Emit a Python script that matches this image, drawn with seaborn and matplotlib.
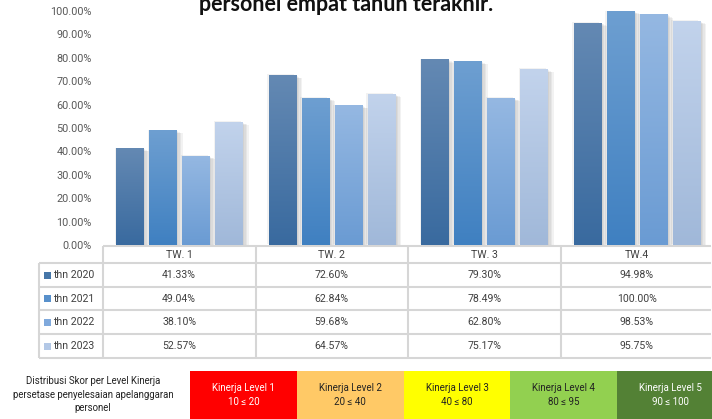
import numpy as np
import pandas as pd
import seaborn as sns
import matplotlib
matplotlib.use("Agg")
import matplotlib.pyplot as plt
import matplotlib.patheffects as pe
from matplotlib.colors import LinearSegmentedColormap
from matplotlib.ticker import PercentFormatter, MultipleLocator
from matplotlib.transforms import blended_transform_factory

# ---- data ----
quarters = ["TW. 1", "TW. 2", "TW. 3", "TW.4"]
years = ["thn 2020", "thn 2021", "thn 2022", "thn 2023"]
thn_2020 = [0.4133, 0.7260, 0.7930, 0.9498]
thn_2021 = [0.4904, 0.6284, 0.7849, 1.0000]
thn_2022 = [0.3810, 0.5968, 0.6280, 0.9853]
thn_2023 = [0.5257, 0.6457, 0.7517, 0.9575]
series = [thn_2020, thn_2021, thn_2022, thn_2023]

title = "personel empat tahun terakhir."
legend_caption = ["Distribusi Skor per Level Kinerja",
                  "persetase penyelesaian apelanggaran",
                  "personel"]
level_names = ["Kinerja Level 1", "Kinerja Level 2", "Kinerja Level 3",
               "Kinerja Level 4", "Kinerja Level 5"]
level_ranges = ["10 \u2264 20", "20 \u2264 40", "40 \u2264 80", "80 \u2264 95", "90 \u2264 100"]

# ---- styling ----
base_colors = ["#4676a8", "#5890cb", "#7fa9dc", "#b3c8e6"]
grad_top = ["#6489b3", "#6e9fd1", "#95b8e2", "#c2d3ec"]
grad_bottom = ["#396a9f", "#3f80c1", "#6a9bd3", "#a0b8d9"]
level_colors = ["#ff0000", "#ffc966", "#ffff00", "#92d050", "#538135"]
level_text = ["white", "#222222", "#222222", "#222222", "white"]
grid_col = "#d6d6d6"
txt_col = "#404040"

df = pd.DataFrame({
    "quarter": quarters * len(years),
    "year": np.repeat(years, len(quarters)).tolist(),
    "value": np.concatenate(series),
})

sns.set_theme(style="white")
plt.rcParams["font.family"] = ["Roboto", "DejaVu Sans"]

W, H = 712, 419
fig = plt.figure(figsize=(W / 100, H / 100), dpi=100)

# pixel-based overlay for table and legend strip
ov = fig.add_axes([0, 0, 1, 1], zorder=0)
ov.set_xlim(0, W)
ov.set_ylim(H, 0)
ov.axis("off")

x0, x1 = 103, 713
y_top, y_bot = 11, 245
ax = fig.add_axes([x0 / W, (H - y_bot) / H, (x1 - x0) / W, (y_bot - y_top) / H], zorder=2)
ax.patch.set_alpha(0)

sns.barplot(data=df, x="quarter", y="value", hue="year", order=quarters,
            hue_order=years, palette=base_colors, saturation=1, width=0.866,
            gap=0.18, legend=False, ax=ax)

# soft drop shadow built from several faint offset copies
shadow = [pe.SimplePatchShadow(offset=(o, -o * 0.5), shadow_rgbFace="#808080", alpha=0.1)
          for o in (-1.0, 0.5, 1.5, 2.5, 3.5, 4.5)] + [pe.Normal()]

grad = np.linspace(0, 1, 256).reshape(-1, 1)
for k, cont in enumerate(ax.containers):
    cmap = LinearSegmentedColormap.from_list(f"g{k}", [grad_bottom[k], grad_top[k]])
    for bar in cont:
        bar.set_edgecolor("none")
        bar.set_path_effects(shadow)
        bx, by = bar.get_x(), bar.get_y()
        bw, bh = bar.get_width(), bar.get_height()
        im = ax.imshow(grad, extent=[bx, bx + bw, by, by + bh], origin="lower",
                       cmap=cmap, aspect="auto", zorder=bar.get_zorder() + 0.1,
                       interpolation="bicubic")
        im.set_clip_path(bar)

ax.set_xlim(-0.5, len(quarters) - 0.5)
ax.set_ylim(0, 1.0)
ax.yaxis.set_major_locator(MultipleLocator(0.1))
ax.yaxis.set_major_formatter(PercentFormatter(1.0, decimals=2))
ax.tick_params(axis="y", length=0, pad=8, labelsize=7.8, labelcolor="#595959")
ax.tick_params(axis="x", length=0, labelbottom=False)
ax.set_xlabel("")
ax.set_ylabel("")
for s in ax.spines.values():
    s.set_visible(False)

# ---- data table under the bars ----
tr = blended_transform_factory(ax.transData, ov.transData)
row_lines = [246, 263, 287, 310, 334, 358]
lab_left = 39
line_kw = dict(color=grid_col, lw=1.5, solid_capstyle="butt")
nq = len(quarters)
ov.plot([x0, W - 1], [row_lines[0]] * 2, **line_kw)
for yy in row_lines[1:]:
    ov.plot([lab_left, W - 1], [yy] * 2, **line_kw)
for i in range(nq + 1):
    ov.plot([i - 0.5, i - 0.5], [row_lines[0], row_lines[-1]], transform=tr, **line_kw)
ov.plot([lab_left, lab_left], [row_lines[1], row_lines[-1]], **line_kw)

for i, q in enumerate(quarters):
    ov.text(i, (row_lines[0] + row_lines[1]) / 2 + 0.5, q, transform=tr,
            ha="center", va="center", fontsize=7.6, color=txt_col)
for r, (yr, vals) in enumerate(zip(years, series)):
    yc = (row_lines[r + 1] + row_lines[r + 2]) / 2
    for i, v in enumerate(vals):
        ov.text(i, yc, f"{v * 100:.2f}%", transform=tr, ha="center", va="center",
                fontsize=7.6, color=txt_col)
    ov.add_patch(plt.Rectangle((44, yc - 3.5), 7, 7, color=base_colors[r], lw=0))
    ov.text(53, yc, yr, ha="left", va="center", fontsize=7.6, color=txt_col)

# ---- performance level strip ----
strip_x, strip_w, strip_y = 190, 106.8, 371
for k, (nm, rg) in enumerate(zip(level_names, level_ranges)):
    lx = strip_x + k * strip_w
    ov.add_patch(plt.Rectangle((lx, strip_y), strip_w, H - strip_y + 2,
                               color=level_colors[k], lw=0))
    ov.text(lx + strip_w / 2, 388, nm, ha="center", va="center", fontsize=7,
            color=level_text[k])
    ov.text(lx + strip_w / 2, 402, rg, ha="center", va="center", fontsize=7,
            color=level_text[k])
for j, line in enumerate(legend_caption):
    ov.text(93, 381 + j * 13.5, line, ha="center", va="center", fontsize=6.9,
            color="#222222")

fig.text(346 / W, 1 - 11 / H, title, ha="center", va="baseline", fontsize=15.5,
         fontweight="bold", family=["Lato", "DejaVu Sans"], color="#111111")

fig.savefig("out.png", dpi=100)
